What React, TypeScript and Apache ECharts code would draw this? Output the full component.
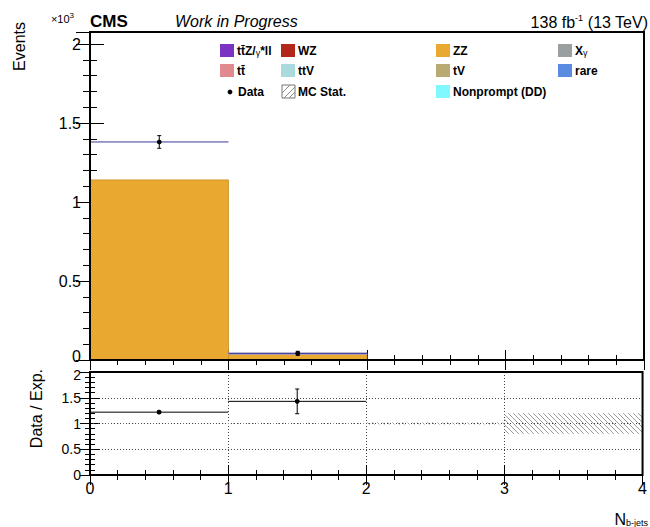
import React, { useEffect, useRef } from "react";
import * as echarts from "echarts";

// ---------- data ----------
const binLow = [0, 1, 2, 3];
const binHigh = [1, 2, 3, 4];
const zzEvents = [1140, 36, 0, 0];
const ttzEvents = [0, 9, 0, 0];
const dataEvents = [1380, 42];
const dataErrors = [40, 13];
const ratioValues = [1.22, 1.43];
const ratioErrors = [0.02, 0.24];
const mcStatRelErrors = [0.004, 0.01, 0.02, 0.2];
const xTickValues = [0, 1, 2, 3, 4];
const yMainTickLabels = ["0", "0.5", "1", "1.5", "2"];
const yRatioTickLabels = ["0", "0.5", "1", "1.5", "2"];

const legendRow1 = ["tt̄Z/γ*ll", "WZ", "ZZ", "Xγ"];
const legendRow2 = ["tt̄", "ttV", "tV", "rare"];
const legendRow3 = ["Data", "MC Stat.", "Nonprompt (DD)"];

const FONT = "'Liberation Sans', Arial, Helvetica, sans-serif";

const COLORS: Record<string, string> = {
  ttz: "#7b33c2",
  wz: "#b3261a",
  zz: "#e9a830",
  xg: "#9a9fa0",
  tt: "#e08a90",
  ttv: "#a8dade",
  tv: "#b8aa72",
  rare: "#5b8be0",
  np: "#80f8ff",
  ttzLayer: "#a79fc6",
};

function stackRows(layers: number[][], index: number) {
  const rows: number[][] = [];
  for (let i = 0; i < binLow.length; i++) {
    let base = 0;
    for (let k = 0; k < index; k++) base += layers[k][i];
    const v = layers[index][i];
    if (v > 0) rows.push([binLow[i], binHigh[i], base, base + v]);
  }
  return rows;
}

function barRender(color: string, stroke: string) {
  return (params: any, api: any) => {
    const a = api.coord([api.value(0), api.value(3)]);
    const b = api.coord([api.value(1), api.value(2)]);
    return {
      type: "rect",
      shape: { x: a[0], y: a[1], width: b[0] - a[0], height: b[1] - a[1] },
      style: { fill: color, stroke, lineWidth: 0.8 },
    };
  };
}

function pointRender(xErrColor: string) {
  return (params: any, api: any) => {
    const lo = api.value(0);
    const hi = api.value(1);
    const y = api.value(2);
    const e = api.value(3);
    const mid = (lo + hi) / 2;
    const pl = api.coord([lo, y]);
    const pr = api.coord([hi, y]);
    const pc = api.coord([mid, y]);
    const pt = api.coord([mid, y + e]);
    const pb = api.coord([mid, y - e]);
    const children: any[] = [
      { type: "line", shape: { x1: pl[0], y1: pl[1], x2: pr[0], y2: pr[1] }, style: { stroke: xErrColor, lineWidth: 1 } },
      { type: "line", shape: { x1: pt[0], y1: pt[1], x2: pb[0], y2: pb[1] }, style: { stroke: "#000", lineWidth: 1 } },
      { type: "line", shape: { x1: pt[0] - 2, y1: pt[1], x2: pt[0] + 2, y2: pt[1] }, style: { stroke: "#000", lineWidth: 1 } },
      { type: "line", shape: { x1: pb[0] - 2, y1: pb[1], x2: pb[0] + 2, y2: pb[1] }, style: { stroke: "#000", lineWidth: 1 } },
      { type: "circle", shape: { cx: pc[0], cy: pc[1], r: 2.4 }, style: { fill: "#000" } },
    ];
    return { type: "group", children };
  };
}

function hatchRender(params: any, api: any) {
  const a = api.coord([api.value(0), api.value(3)]);
  const b = api.coord([api.value(1), api.value(2)]);
  const x0 = a[0], y0 = a[1], x1 = b[0], y1 = b[1];
  const step = 5;
  const children: any[] = [];
  const cStart = Math.ceil((y0 - x1) / step) * step;
  for (let c = cStart; c <= y1 - x0; c += step) {
    const xa = Math.max(x0, y0 - c);
    const xb = Math.min(x1, y1 - c);
    if (xb - xa > 0.3) {
      children.push({
        type: "line",
        shape: { x1: xa, y1: xa + c, x2: xb, y2: xb + c },
        style: { stroke: "#9a9a9a", lineWidth: 1 },
      });
    }
  }
  return { type: "group", children };
}

function legendGraphics() {
  const els: any[] = [];
  const rowY = [51, 71, 92];
  const boxX = [220, 281, 436, 558];
  const row1Colors = [COLORS.ttz, COLORS.wz, COLORS.zz, COLORS.xg];
  const row2Colors = [COLORS.tt, COLORS.ttv, COLORS.tv, COLORS.rare];
  const textStyle = { fontFamily: FONT, fontWeight: "bold", fontSize: 12, fill: "#000", verticalAlign: "middle", align: "left" };
  const addBox = (x: number, y: number, color: string) =>
    els.push({ type: "rect", shape: { x, y: y - 7, width: 14, height: 13 }, style: { fill: color } });
  const addText = (x: number, y: number, t: string) => {
    if (t.includes("γ")) {
      const parts = t.split("γ");
      els.push({
        type: "text", x, y,
        style: {
          ...textStyle,
          text: `{n|${parts[0]}}{g|γ}{n|${parts[1]}}`,
          rich: {
            n: { fontFamily: FONT, fontWeight: "bold", fontSize: 12, fill: "#000" },
            g: { fontFamily: FONT, fontWeight: "normal", fontSize: 9, fill: "#000", padding: [4, 0, 0, 0] },
          },
        },
      });
    } else {
      els.push({ type: "text", x, y, style: { ...textStyle, text: t } });
    }
  };
  legendRow1.forEach((t, i) => { addBox(boxX[i], rowY[0], row1Colors[i]); addText(boxX[i] + 17, rowY[0], t); });
  legendRow2.forEach((t, i) => { addBox(boxX[i], rowY[1], row2Colors[i]); addText(boxX[i] + 17, rowY[1], t); });
  // Data
  els.push({ type: "circle", shape: { cx: 230, cy: rowY[2], r: 2.4 }, style: { fill: "#000" } });
  addText(238, rowY[2], legendRow3[0]);
  // MC Stat.
  const mx = 282, my = rowY[2] - 7;
  els.push({ type: "rect", shape: { x: mx, y: my, width: 13, height: 13 }, style: { fill: "#fff", stroke: "#777", lineWidth: 1 } });
  [[mx, my + 8, mx + 8, my], [mx + 2, my + 13, mx + 13, my + 2], [mx + 7, my + 13, mx + 13, my + 7]].forEach((l) =>
    els.push({ type: "line", shape: { x1: l[0], y1: l[1], x2: l[2], y2: l[3] }, style: { stroke: "#888", lineWidth: 1 } })
  );
  addText(mx + 16, rowY[2], legendRow3[1]);
  // Nonprompt
  addBox(436, rowY[2], COLORS.np);
  addText(453, rowY[2], legendRow3[2]);
  return els;
}

function headerGraphics() {
  return [
    { type: "text", x: 90, y: 21, style: { text: "CMS", fontFamily: FONT, fontWeight: "bold", fontSize: 17, fill: "#000", verticalAlign: "middle" } },
    { type: "text", x: 175, y: 21, style: { text: "Work in Progress", fontFamily: FONT, fontStyle: "italic", fontSize: 16, fill: "#000", verticalAlign: "middle" } },
    {
      type: "text", x: 648, y: 22,
      style: {
        text: "{n|138 fb}{s|-1}{n| (13 TeV)}", align: "right", verticalAlign: "middle",
        rich: {
          n: { fontFamily: FONT, fontSize: 16, fill: "#000" },
          s: { fontFamily: FONT, fontSize: 9, fill: "#000", padding: [0, 0, 9, 0] },
        },
      },
    },
    { type: "text", x: 19, y: 22, rotation: Math.PI / 2, style: { text: "Events", fontFamily: FONT, fontSize: 16, fill: "#000", align: "right", verticalAlign: "middle" } },
    { type: "text", x: 36, y: 369, rotation: Math.PI / 2, style: { text: "Data / Exp.", fontFamily: FONT, fontSize: 16, fill: "#000", align: "right", verticalAlign: "middle" } },
    {
      type: "text", x: 648, y: 519,
      style: {
        text: "{n|N}{s|b-jets}", align: "right", verticalAlign: "middle",
        rich: {
          n: { fontFamily: FONT, fontSize: 16, fill: "#000" },
          s: { fontFamily: FONT, fontSize: 9, fill: "#000", padding: [8, 0, 0, 0] },
        },
      },
    },
  ];
}

const tickStyle = { color: "#000", width: 1 };

function xAxisDef(gridIndex: number, position: string, labels: boolean, grid: boolean) {
  return {
    type: "value", gridIndex, position, min: 0, max: 4, interval: 1,
    axisLine: { show: false },
    axisTick: { show: true, inside: true, length: 10, lineStyle: tickStyle },
    minorTick: { show: true, splitNumber: 5, length: 5, lineStyle: tickStyle },
    axisLabel: {
      show: labels, fontSize: 16, fontFamily: FONT, color: "#000", margin: 5,
      formatter: (v: number) => (xTickValues.includes(v) ? String(v) : ""),
    },
    splitLine: { show: grid, lineStyle: { type: [1, 2], color: "#444", width: 1 } },
  };
}

function yAxisDef(
  gridIndex: number, position: string, labels: string[] | null, max: number, interval: number,
  fontSize: number, grid: boolean, major: number, shiftFirstUp: boolean, shiftLastDown: boolean, name: string
) {
  return {
    type: "value", gridIndex, position, min: 0, max, interval,
    name,
    nameLocation: "end",
    nameGap: 6,
    nameTextStyle: {
      align: "right", verticalAlign: "bottom", padding: [0, 16, 0, 0],
      rich: {
        n: { fontFamily: FONT, fontSize: 11, color: "#000" },
        s: { fontFamily: FONT, fontSize: 8, color: "#000", padding: [0, 0, 7, 0] },
      },
    },
    axisLine: { show: false },
    axisTick: { show: true, inside: true, length: major, lineStyle: tickStyle },
    minorTick: { show: true, splitNumber: 5, length: major / 2, lineStyle: tickStyle },
    axisLabel: {
      show: !!labels, fontSize, fontFamily: FONT, color: "#000", margin: 9,
      formatter: (v: number) => {
        const idx = Math.round(v / interval);
        if (!labels || Math.abs(v / interval - idx) > 1e-6) return "";
        const t = labels[idx] ?? "";
        if (t === "") return "";
        if (shiftFirstUp && idx === 0) return `{up|${t}}`;
        if (shiftLastDown && idx === labels.length - 1) return `{down|${t}}`;
        return t;
      },
      rich: {
        up: { fontSize, fontFamily: FONT, color: "#000", padding: [0, 0, 8, 0] },
        down: { fontSize, fontFamily: FONT, color: "#000", padding: [5, 0, 0, 0] },
      },
    },
    splitLine: { show: grid, lineStyle: { type: [1, 2], color: "#444", width: 1 } },
  };
}

export default function App() {
  const ref = useRef<HTMLDivElement>(null);
  useEffect(() => {
    if (!ref.current) return;
    const chart = echarts.init(ref.current, null, { renderer: "svg" });
    const layers = [zzEvents, ttzEvents];
    const dataRows = dataEvents.map((v, i) => [binLow[i], binHigh[i], v, dataErrors[i]]);
    const ratioRows = ratioValues.map((v, i) => [binLow[i], binHigh[i], v, ratioErrors[i]]);
    const bandRows = mcStatRelErrors.map((e, i) => [binLow[i], binHigh[i], 1 - e, 1 + e]);
    chart.setOption({
      animation: false,
      backgroundColor: "#fff",
      textStyle: { fontFamily: FONT },
      grid: [
        { left: 90, right: 6, top: 32, height: 328, show: true, borderColor: "#000", borderWidth: 2, backgroundColor: "transparent", z: 10 },
        { left: 90, right: 6, top: 372, height: 103, show: true, borderColor: "#000", borderWidth: 2, backgroundColor: "transparent", z: 10 },
      ],
      xAxis: [
        xAxisDef(0, "bottom", false, false),
        xAxisDef(0, "top", false, false),
        xAxisDef(1, "bottom", true, true),
        xAxisDef(1, "top", false, false),
      ],
      yAxis: [
        yAxisDef(0, "left", yMainTickLabels, 2076, 500, 16, false, 14, true, false, "{n|×10}{s|3}"),
        yAxisDef(0, "right", null, 2076, 500, 16, false, 14, false, false, ""),
        yAxisDef(1, "left", yRatioTickLabels, 2, 0.5, 14, true, 10, false, true, ""),
        yAxisDef(1, "right", null, 2, 0.5, 14, false, 10, false, false, ""),
      ],
      series: [
        { type: "custom", name: "ZZ", xAxisIndex: 0, yAxisIndex: 0, renderItem: barRender(COLORS.zz, "#c98d22"), data: stackRows(layers, 0), z: 1 },
        { type: "custom", name: "ttZ", xAxisIndex: 0, yAxisIndex: 0, renderItem: barRender(COLORS.ttzLayer, COLORS.ttzLayer), data: stackRows(layers, 1), z: 1 },
        { type: "custom", name: "Data", xAxisIndex: 0, yAxisIndex: 0, renderItem: pointRender("#3a3a9c"), data: dataRows, z: 5 },
        { type: "custom", name: "MC Stat.", xAxisIndex: 2, yAxisIndex: 2, renderItem: hatchRender, data: bandRows, z: 2 },
        { type: "custom", name: "Ratio", xAxisIndex: 2, yAxisIndex: 2, renderItem: pointRender("#000"), data: ratioRows, z: 5 },
      ],
      graphic: [...legendGraphics(), ...headerGraphics()],
    });
    return () => chart.dispose();
  }, []);
  return <div ref={ref} style={{ position: "fixed", left: 0, top: 0, width: 650, height: 527 }} />;
}
